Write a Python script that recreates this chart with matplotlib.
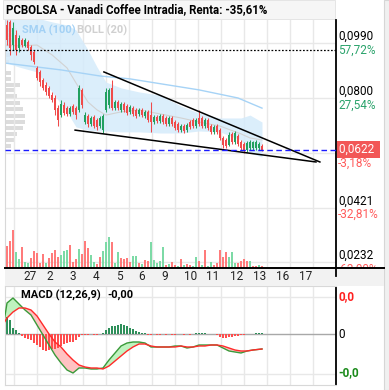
import matplotlib
matplotlib.use("Agg")
import matplotlib.pyplot as plt
import matplotlib.transforms as mtransforms
from matplotlib.patches import Rectangle

plt.rcParams['font.family'] = ['Roboto', 'DejaVu Sans']

title = "PCBOLSA - Vanadi Coffee Intradia, Renta: -35,61%"

# intraday candles, one per slot
opens = [
    0.1052, 0.1063, 0.0983, 0.1018, 0.0973, 0.1000, 0.0980, 0.0993, 0.0976, 0.0959,
    0.0904, 0.0890, 0.0862, 0.0845, 0.0835, 0.0810, 0.0800, 0.0765, 0.0741, 0.0776,
    0.0765, 0.0745, 0.0772, 0.0765, 0.0759, 0.0828, 0.0717, 0.0738, 0.0710, 0.0734,
    0.0724, 0.0703, 0.0689, 0.0759, 0.0776, 0.0835, 0.0765, 0.0786, 0.0759, 0.0779,
    0.0772, 0.0752, 0.0765, 0.0759, 0.0745, 0.0759, 0.0738, 0.0752, 0.0741, 0.0717,
    0.0734, 0.0721, 0.0738, 0.0731, 0.0710, 0.0731, 0.0717, 0.0710, 0.0689, 0.0703,
    0.0689, 0.0717, 0.0724, 0.0703, 0.0731, 0.0731, 0.0703, 0.0724, 0.0703, 0.0683,
    0.0703, 0.0689, 0.0662, 0.0655, 0.0638, 0.0676, 0.0648, 0.0669, 0.0648, 0.0641,
    0.0620, 0.0627, 0.0627, 0.0627, 0.0627, 0.0634]
closes = [
    0.1000, 0.0973, 0.1042, 0.0966, 0.1007, 0.0983, 0.1000, 0.0973, 0.0949, 0.0924,
    0.0869, 0.0855, 0.0835, 0.0821, 0.0807, 0.0793, 0.0759, 0.0724, 0.0779, 0.0748,
    0.0745, 0.0765, 0.0752, 0.0741, 0.0835, 0.0776, 0.0741, 0.0710, 0.0731, 0.0703,
    0.0700, 0.0731, 0.0738, 0.0821, 0.0828, 0.0765, 0.0786, 0.0765, 0.0779, 0.0759,
    0.0748, 0.0769, 0.0745, 0.0738, 0.0759, 0.0741, 0.0752, 0.0724, 0.0717, 0.0734,
    0.0721, 0.0738, 0.0717, 0.0710, 0.0731, 0.0710, 0.0696, 0.0689, 0.0703, 0.0686,
    0.0707, 0.0700, 0.0703, 0.0724, 0.0710, 0.0703, 0.0724, 0.0696, 0.0683, 0.0700,
    0.0683, 0.0662, 0.0638, 0.0634, 0.0672, 0.0648, 0.0679, 0.0641, 0.0627, 0.0620,
    0.0645, 0.0648, 0.0648, 0.0648, 0.0641, 0.0622]
highs = [
    0.1069, 0.1069, 0.1063, 0.1035, 0.1018, 0.1007, 0.1007, 0.1000, 0.0983, 0.0966,
    0.0911, 0.0897, 0.0869, 0.0855, 0.0841, 0.0821, 0.0810, 0.0776, 0.0793, 0.0786,
    0.0772, 0.0772, 0.0779, 0.0772, 0.0845, 0.0835, 0.0752, 0.0745, 0.0738, 0.0741,
    0.0731, 0.0738, 0.0745, 0.0835, 0.0835, 0.0862, 0.0793, 0.0793, 0.0786, 0.0786,
    0.0779, 0.0776, 0.0772, 0.0765, 0.0765, 0.0765, 0.0759, 0.0759, 0.0786, 0.0741,
    0.0741, 0.0745, 0.0745, 0.0738, 0.0738, 0.0738, 0.0724, 0.0717, 0.0710, 0.0710,
    0.0714, 0.0724, 0.0731, 0.0731, 0.0759, 0.0738, 0.0731, 0.0731, 0.0710, 0.0707,
    0.0710, 0.0696, 0.0669, 0.0662, 0.0683, 0.0683, 0.0686, 0.0676, 0.0655, 0.0648,
    0.0652, 0.0655, 0.0652, 0.0655, 0.0648, 0.0641]
lows = [
    0.0983, 0.0949, 0.0966, 0.0949, 0.0959, 0.0976, 0.0976, 0.0966, 0.0931, 0.0917,
    0.0862, 0.0841, 0.0828, 0.0810, 0.0800, 0.0786, 0.0741, 0.0703, 0.0734, 0.0741,
    0.0738, 0.0738, 0.0745, 0.0727, 0.0752, 0.0765, 0.0710, 0.0700, 0.0703, 0.0696,
    0.0689, 0.0696, 0.0679, 0.0752, 0.0765, 0.0759, 0.0759, 0.0759, 0.0752, 0.0752,
    0.0741, 0.0745, 0.0738, 0.0731, 0.0738, 0.0734, 0.0731, 0.0717, 0.0683, 0.0710,
    0.0714, 0.0714, 0.0710, 0.0703, 0.0703, 0.0703, 0.0689, 0.0683, 0.0683, 0.0679,
    0.0683, 0.0693, 0.0696, 0.0696, 0.0703, 0.0696, 0.0696, 0.0689, 0.0676, 0.0676,
    0.0676, 0.0655, 0.0627, 0.0627, 0.0634, 0.0641, 0.0641, 0.0634, 0.0620, 0.0610,
    0.0613, 0.0620, 0.0620, 0.0620, 0.0620, 0.0617]

volume = [
    22, 27, 38, 16, 9, 21, 6, 5, 10, 17,
    15, 5, 14, 5, 10, 15, 18, 11, 13, 17,
    18, 23, 6, 9, 19, 14, 27, 20, 13, 6,
    4, 11, 17, 26, 31, 26, 5, 16, 10, 9,
    10, 6, 12, 12, 5, 4, 8, 7, 26, 8,
    5, 7, 21, 3, 4, 6, 3, 2, 9, 3,
    4, 3, 2, 11, 7, 3, 18, 2, 6, 3,
    5, 18, 11, 16, 11, 16, 5, 5, 7, 9,
    7, 7, 2, 2, 3, 2]
vol_up = [
    0, 0, 0, 1, 1, 0, 1, 1, 0, 0,
    0, 0, 0, 1, 0, 0, 0, 0, 1, 1,
    1, 0, 0, 0, 1, 0, 0, 0, 1, 1,
    0, 0, 1, 1, 1, 0, 1, 1, 0, 0,
    0, 0, 1, 1, 0, 1, 0, 0, 1, 1,
    1, 1, 1, 0, 1, 0, 0, 1, 0, 1,
    0, 0, 1, 1, 0, 1, 0, 1, 1, 0,
    0, 0, 0, 0, 1, 1, 1, 0, 0, 0,
    0, 1, 0, 0, 1, 0]

# bollinger (20) and sma (100), read at a few slots
band_idx = [-1, 4, 10, 15, 20, 23, 27, 30, 33, 38, 44, 51, 58, 64, 71, 78, 81, 85]
band_up = [0.1087, 0.1087, 0.1076, 0.1063, 0.1052, 0.1035, 0.0966, 0.0907, 0.0855,
           0.0835, 0.0821, 0.0810, 0.0772, 0.0748, 0.0731, 0.0731, 0.0741, 0.0717]
band_lo = [0.0924, 0.0907, 0.0890, 0.0821, 0.0752, 0.0700, 0.0689, 0.0686, 0.0686,
           0.0683, 0.0683, 0.0679, 0.0679, 0.0686, 0.0683, 0.0655, 0.0610, 0.0596]
band_mid = [0.0983, 0.0980, 0.0983, 0.0949, 0.0904, 0.0852, 0.0786, 0.0759, 0.0741,
            0.0752, 0.0759, 0.0745, 0.0731, 0.0717, 0.0703, 0.0676, 0.0662, 0.0655]
sma_idx = [-1, 18, 31, 41, 64, 77, 85]
sma_val = [0.0921, 0.0897, 0.0876, 0.0866, 0.0828, 0.0800, 0.0765]

# volume profile on the left
prof_levels = [0.1035, 0.1018, 0.1000, 0.0983, 0.0949, 0.0924, 0.0886, 0.0866, 0.0845, 0.0828,
               0.0807, 0.0783, 0.0762, 0.0738, 0.0717, 0.0696, 0.0676, 0.0655, 0.0634]
prof_width = [12, 14, 12, 8, 5, 4, 6, 6, 15, 10, 12, 15, 18, 20, 20, 18, 12, 10, 6]

# drawn trend lines (slot, price)
trend_upper = [(32.3, 0.0890), (104.3, 0.0579)]
trend_lower = [(22.7, 0.0689), (103.0, 0.0579)]
ref_line = 0.0966
last_price = 0.0622

grid_levels = [0.0990, 0.0800, 0.0611, 0.0421, 0.0232]
right_levels = [0.0990, 0.0800, 0.0421, 0.0232]
right_prices = ["0,0990", "0,0800", "0,0421", "0,0232"]
right_pcts = ["57,72%", "27,54%", "-32,81%", "-63,00%"]

day_labels = ["27", "2", "3", "4", "5", "6", "9", "10", "11", "12", "13", "16", "17"]
day_pos = [7.67, 14.33, 22.0, 29.67, 37.33, 45.0, 52.67, 61.33, 68.67, 76.67, 84.33, 92.0, 99.67]
grid_pos = [2.33 + 7.667 * k for k in range(14)]

# MACD (12,26,9), units of 1e-4
macd_idx = [-1, 0, 2, 4, 6, 8, 10, 12, 14, 16, 18, 20, 22, 24, 26, 28, 30, 32, 34, 36, 38, 40,
            42, 44, 46, 48, 50, 52, 54, 56, 58, 60, 62, 64, 66, 68, 70, 72, 74, 76, 78, 80, 82, 85]
macd_line = [1.2, 3.1, 3.6, 3.0, 2.4, 1.9, 0.9, -0.1, -1.1, -2.1, -2.9, -3.6, -3.9, -3.4, -3.4,
             -3.5, -3.5, -3.4, -2.6, -1.9, -1.2, -0.9, -0.8, -0.8, -0.9, -1.3, -1.3, -1.3, -1.3,
             -1.2, -1.2, -1.4, -1.3, -1.1, -1.1, -1.1, -1.1, -1.4, -1.7, -1.8, -1.9, -1.7, -1.6, -1.5]
macd_signal = [1.1, 1.6, 2.2, 2.6, 2.6, 2.4, 1.8, 0.9, 0.0, -0.8, -1.3, -2.0, -2.6, -3.1, -3.3,
               -3.4, -3.4, -3.5, -3.2, -2.7, -2.2, -1.7, -1.3, -1.0, -1.0, -1.2, -1.3, -1.3, -1.3,
               -1.3, -1.2, -1.3, -1.3, -1.2, -1.2, -1.1, -1.1, -1.2, -1.4, -1.6, -1.7, -1.7, -1.6, -1.5]
macd_hist = [
    1.7, 1.4, 0.6, 0.4, 0.1, -0.2, -0.4, -0.5, -0.6, -0.9,
    -1.1, -1.3, -1.6, -1.7, -1.6, -1.5, -1.5, -1.4, -1.2, -1.0,
    -0.9, -0.8, -0.8, -0.6, -0.3, -0.1, -0.1, -0.1, 0.0, -0.1,
    -0.1, 0.0, 0.1, 0.4, 0.6, 0.8, 0.8, 0.9, 1.0, 0.9,
    0.8, 0.6, 0.5, 0.3, 0.2, 0.1, 0.1, -0.1, -0.1, 0.0,
    -0.1, -0.1, 0.0, -0.1, 0.0, -0.1, -0.1, 0.0, 0.0, -0.1,
    0.0, -0.1, 0.0, 0.1, 0.1, 0.1, 0.1, 0.0, 0.0, 0.0,
    -0.1, -0.3, -0.4, -0.4, -0.3, -0.3, -0.2, -0.2, -0.1, -0.1,
    0.0, 0.0, 0.0, 0.1, 0.1, 0.1]

W, H = 389, 390
RED = '#f04a4a'
GREEN = '#22a060'
GRID = '#e8e8e8'
XLIM = (-0.667, 109.667)


def box(x0, y0, x1, y1):
    # pixel box -> figure fraction
    return [x0 / W, 1 - y1 / H, (x1 - x0) / W, (y1 - y0) / H]


fig = plt.figure(figsize=(W / 100, H / 100), dpi=100)
fig.patches.append(Rectangle((384 / W, 0), 1, 1, transform=fig.transFigure,
                             fc='#f0f0f0', ec='#d6d6d6', lw=0.8, zorder=-5))
fig.patches.append(Rectangle((3 / W, 1 - 19 / H), 332 / W, 19 / H, transform=fig.transFigure,
                             fc='#f6f6f6', ec='#e2e2e2', lw=0.6, zorder=-5))
fig.text(6 / W, 1 - 10 / H, title, va='center', ha='left', fontsize=8.3, fontweight='bold')

# volume profile behind everything
axp = fig.add_axes(box(5, 20, 336, 268), zorder=-1)
axp.set_xlim(0, 331)
axp.barh(prof_levels, prof_width, height=0.0016, color='#dcdcdc', left=0)
axp.axis('off')

ax = fig.add_axes(box(5, 20, 336, 268))
ax.set_facecolor('none')
ax.set_xlim(*XLIM)
ax.set_ylim(0.02128, 0.10694)
axp.set_ylim(ax.get_ylim())
ax.set_xticks([])
ax.set_xticks(grid_pos, minor=True)
ax.set_yticks(grid_levels)
ax.tick_params(which='both', length=0, labelleft=False, labelbottom=False)
ax.grid(which='minor', axis='x', color=GRID, lw=1)
ax.grid(which='major', axis='y', color=GRID, lw=1)
ax.set_axisbelow(True)
for s in ['top', 'bottom']:
    ax.spines[s].set_visible(False)
ax.spines['left'].set_color('#d8d8d8')
ax.spines['right'].set_color('black')
ax.spines['right'].set_linewidth(1.3)

ax.fill_between(band_idx, band_lo, band_up, color='#d5ebfb', alpha=0.85, lw=0, zorder=1)
ax.plot(band_idx, band_mid, color='#d2d2d2', lw=0.8, zorder=1.5)
ax.plot(sma_idx, sma_val, color='#a6d3f6', lw=1, zorder=1.6)

for i in range(len(opens)):
    c = GREEN if closes[i] >= opens[i] else RED
    ax.vlines(i, lows[i], highs[i], color=c, lw=0.75, zorder=3)
    ax.bar(i, closes[i] - opens[i], bottom=opens[i], width=0.7, color=c, lw=0, zorder=3)

ax.plot([p[0] for p in trend_upper], [p[1] for p in trend_upper], color='black', lw=1.1, zorder=4)
ax.plot([p[0] for p in trend_lower], [p[1] for p in trend_lower], color='black', lw=1.1, zorder=4)
ax.axhline(ref_line, color='black', ls=(0, (1.4, 1.4)), lw=0.9, zorder=4)
ax.axhline(last_price, color='#1a1aff', ls=(0, (4, 2.5)), lw=1, zorder=4)

ax.text((22 - 5) / 331, (268 - 30) / 248, "SMA (100)", transform=ax.transAxes, color='#a3d1f5',
        fontsize=8, fontweight='bold', va='center')
ax.text((77 - 5) / 331, (268 - 30) / 248, "BOLL (20)", transform=ax.transAxes, color='#d0d0d0',
        fontsize=8, fontweight='bold', va='center')

trans = mtransforms.blended_transform_factory(ax.transAxes, ax.transData)
for lvl, ptxt, pct in zip(right_levels, right_prices, right_pcts):
    col = '#2aa36b' if not pct.startswith('-') else '#ff5a5a'
    ax.annotate(ptxt, (1, lvl), xycoords=trans, xytext=(1.5, 0.3), textcoords='offset points',
                va='bottom', ha='left', fontsize=8.5, color='black', annotation_clip=False)
    ax.annotate(pct, (1, lvl), xycoords=trans, xytext=(1.5, -0.3), textcoords='offset points',
                va='top', ha='left', fontsize=8.5, color=col, annotation_clip=False)
ax.annotate("-3,18%", (1, last_price), xycoords=trans, xytext=(1.5, -5), textcoords='offset points',
            va='top', ha='left', fontsize=8.5, color='#ff5a5a', annotation_clip=False)
ax.annotate("0,0622 ", (1, last_price), xycoords=trans, xytext=(2.5, 0), textcoords='offset points',
            va='center', ha='left', fontsize=8.5, color='white', annotation_clip=False,
            bbox=dict(boxstyle='square,pad=0.2', fc='#f25757', ec='none'))

# volume bars
axv = fig.add_axes(box(5, 20, 336, 268), zorder=0.5)
axv.set_facecolor('none')
axv.set_xlim(*XLIM)
axv.set_ylim(0, 248)
axv.bar(range(len(volume)), volume, width=0.72, lw=0,
        color=['#7ddaa6' if u else '#ff7b7b' for u in vol_up])
axv.axis('off')

# date strip
axs = fig.add_axes(box(5, 268, 384, 286), zorder=1)
axs.set_facecolor('#f2f2f2')
axs.set_xlim(XLIM[0], XLIM[0] + 379 / 3)
axs.set_ylim(0, 1)
axs.set_xticks([])
axs.set_yticks([])
for s in ['left', 'right', 'bottom']:
    axs.spines[s].set_visible(False)
axs.spines['top'].set_color('black')
axs.spines['top'].set_linewidth(1.4)
axs.plot([XLIM[1], XLIM[1]], [0.55, 1], color='black', lw=1.3, clip_on=False)
for p, lab in zip(day_pos, day_labels):
    axs.text(p, 0.5, lab, ha='center', va='center', fontsize=8.5, color='#222222')

# MACD panel
axm = fig.add_axes(box(5, 286, 336, 385))
axm.set_xlim(*XLIM)
axm.set_ylim(-5.1, 4.8)
axm.set_xticks([])
axm.set_xticks(grid_pos, minor=True)
axm.set_yticks([3.7, -4.0])
axm.tick_params(which='both', length=0, labelleft=False, labelbottom=False)
axm.grid(which='minor', axis='x', color=GRID, lw=1)
axm.grid(which='major', axis='y', color=GRID, lw=1)
axm.set_axisbelow(True)
for s in ['left', 'top', 'bottom']:
    axm.spines[s].set_color('#d8d8d8')
axm.spines['right'].set_color('black')
axm.spines['right'].set_linewidth(1.3)
axm.axhline(0, color='#a8a8a8', lw=1, zorder=1)

above = [m >= s for m, s in zip(macd_line, macd_signal)]
below = [not a for a in above]
axm.fill_between(macd_idx, macd_line, macd_signal, where=above, interpolate=True,
                 color='#bff3bf', lw=0, zorder=1.5)
axm.fill_between(macd_idx, macd_line, macd_signal, where=below, interpolate=True,
                 color='#ffc2c2', lw=0, zorder=1.5)
axm.bar(range(len(macd_hist)), macd_hist, width=0.55, lw=0, zorder=2,
        color=['#2e8f5a' if h >= 0 else '#ff4d4d' for h in macd_hist])
axm.plot(macd_idx, macd_line, color='#3a9a3a', lw=1, zorder=3)
axm.plot(macd_idx, macd_signal, color='#ff2a2a', lw=1, zorder=3)

axm.text((21 - 5) / 331, (385 - 295) / 99, "MACD (12,26,9)", transform=axm.transAxes,
         fontsize=8, fontweight='bold', va='center')
axm.text((107 - 5) / 331, (385 - 295) / 99, "-0,00", transform=axm.transAxes,
         fontsize=8, fontweight='bold', va='center')
mtrans = mtransforms.blended_transform_factory(axm.transAxes, axm.transData)
for lvl, lab, col in [(3.7, "0,0", '#ff2020'), (0, "0", 'black'), (-3.9, "-0,0", '#1a8a1a')]:
    axm.annotate(lab, (1, lvl), xycoords=mtrans, xytext=(1.5, 0), textcoords='offset points',
                 va='center', ha='left', fontsize=8.5, color=col,
                 fontweight='bold' if lab != "0" else 'normal', annotation_clip=False)

fig.savefig('out.png', dpi=100)
